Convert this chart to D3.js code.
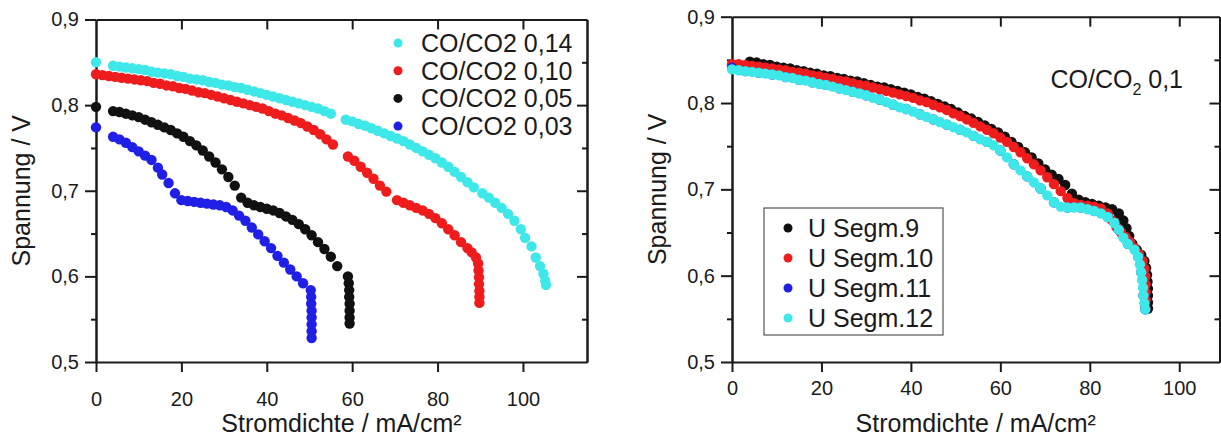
<!DOCTYPE html>
<html>
<head>
<meta charset="utf-8">
<script src="https://cdn.jsdelivr.net/npm/d3@7"></script>
<style>
  body { margin: 0; background: #fff; }
  svg text { font-family: "Liberation Sans", Arial, sans-serif; fill: #1a1a1a; }
</style>
</head>
<body>
<div id="chart"></div>
<script>
// ---- data ----
const xTicks = [0, 20, 40, 60, 80, 100];
const yTicks = [0.5, 0.6, 0.7, 0.8, 0.9];
const yMinor = [0.55, 0.65, 0.75, 0.85];
const yTickLabels = ["0,5", "0,6", "0,7", "0,8", "0,9"];

// left panel: CO/CO2 ratio series  [current density, voltage]
const leftNames = ["CO/CO2 0,14", "CO/CO2 0,10", "CO/CO2 0,05", "CO/CO2 0,03"];
const leftColors = ["#3ee8e8", "#ee1c1c", "#111111", "#1f1fe6"];

const co014 = [[0,0.850],[4,0.846],[5.5,0.845],[7,0.844],[8.5,0.843],[10,0.842],[11.5,0.841],[13,0.839],[14.5,0.838],[16,0.837],[17.5,0.836],[19,0.834],[20.5,0.833],[22,0.831],[23.5,0.830],[25,0.829],[26.5,0.827],[28,0.826],[29.5,0.824],[31,0.823],[32.5,0.821],[34,0.820],[35.5,0.818],[37,0.816],[38.5,0.814],[40,0.812],[41.5,0.810],[43,0.808],[44.5,0.806],[46,0.804],[47.5,0.802],[49,0.800],[50.5,0.798],[52,0.796],[53.5,0.793],[55,0.790],[58.5,0.783],[60,0.781],[61.5,0.778],[63,0.776],[64.5,0.773],[66,0.770],[67.5,0.767],[69,0.764],[70.5,0.761],[72,0.758],[73.5,0.754],[75,0.750],[76.5,0.746],[78,0.742],[79.5,0.738],[81,0.733],[82.5,0.728],[84,0.722],[85.5,0.716],[87,0.710],[88.5,0.704],[90.5,0.697],[92,0.692],[93.5,0.686],[95,0.680],[96.5,0.673],[98,0.665],[99.5,0.655],[100.5,0.645],[102,0.635],[103,0.622],[104,0.612],[104.8,0.603],[105.2,0.595],[105.4,0.590]];
const co010 = [[0,0.836],[1.5,0.835],[3,0.834],[4.5,0.833],[6,0.832],[7.5,0.831],[9,0.830],[10.5,0.829],[12,0.828],[13.5,0.826],[15,0.825],[16.5,0.823],[18,0.822],[19.5,0.820],[21,0.819],[22.5,0.817],[24,0.815],[25.5,0.814],[27,0.812],[28.5,0.810],[30,0.808],[31.5,0.806],[33,0.804],[34.5,0.802],[36,0.800],[37.5,0.798],[39,0.796],[40.5,0.793],[42,0.790],[43.5,0.788],[45,0.785],[46.5,0.782],[48,0.779],[49.5,0.775],[51,0.771],[52.5,0.766],[54,0.760],[55.5,0.754],[59,0.740],[60.5,0.735],[62,0.728],[63.5,0.721],[65,0.714],[66.5,0.706],[68,0.699],[70.5,0.689],[72,0.686],[73.5,0.683],[75,0.680],[76.5,0.677],[78,0.673],[79.5,0.668],[81,0.662],[82.5,0.655],[84,0.648],[85.5,0.640],[87,0.633],[88,0.628],[89,0.622],[89.5,0.615],[89.6,0.607],[89.7,0.599],[89.7,0.591],[89.8,0.583],[89.8,0.576],[89.8,0.569]];
const co005 = [[0,0.798],[4,0.793],[5.5,0.792],[7,0.790],[8.5,0.788],[10,0.786],[11.5,0.783],[13,0.780],[14.5,0.777],[16,0.774],[17.5,0.771],[19,0.767],[20.5,0.763],[22,0.758],[23.5,0.753],[25,0.747],[26.5,0.740],[28,0.733],[29.5,0.725],[31,0.716],[32.5,0.706],[34,0.692],[35.5,0.686],[37,0.683],[38.5,0.681],[40,0.679],[41.5,0.677],[43,0.674],[44.5,0.670],[46,0.666],[47.5,0.661],[49,0.655],[50.5,0.648],[52,0.640],[53.5,0.632],[55,0.623],[56.5,0.612],[59,0.600],[59.2,0.592],[59.3,0.584],[59.3,0.576],[59.4,0.568],[59.4,0.560],[59.4,0.552],[59.4,0.545]];
const co003 = [[0,0.774],[4,0.763],[5.5,0.760],[7,0.756],[8.5,0.751],[10,0.746],[11.5,0.741],[13,0.736],[14.5,0.727],[15.5,0.719],[17,0.709],[18.5,0.697],[20,0.689],[21.5,0.688],[23,0.687],[24.5,0.686],[26,0.685],[27.5,0.684],[29,0.683],[30.5,0.681],[32,0.677],[33.5,0.671],[35,0.665],[36.5,0.657],[38,0.649],[39.5,0.641],[41,0.633],[42.5,0.624],[44,0.616],[45.5,0.608],[47,0.600],[48.5,0.592],[50.3,0.584],[50.4,0.576],[50.4,0.568],[50.5,0.560],[50.5,0.552],[50.5,0.544],[50.5,0.536],[50.5,0.528]];

// right panel: segments at CO/CO2 0,1
const rightNames = ["U Segm.9", "U Segm.10", "U Segm.11", "U Segm.12"];
const rightColors = ["#111111", "#ee1c1c", "#1f1fe6", "#3ee8e8"];

const segm9 = [[4,0.848],[5.5,0.847],[7,0.845],[8.5,0.844],[10,0.842],[11.5,0.841],[13,0.840],[14.5,0.838],[16,0.837],[17.5,0.835],[19,0.834],[20.5,0.832],[22,0.831],[23.5,0.829],[25,0.828],[26.5,0.826],[28,0.825],[29.5,0.823],[31,0.821],[32.5,0.819],[34,0.818],[35.5,0.816],[37,0.814],[38.5,0.812],[40,0.810],[41.5,0.807],[43,0.805],[44.5,0.802],[46,0.799],[47.5,0.796],[49,0.793],[50.5,0.789],[52,0.785],[53.5,0.782],[55,0.778],[56.5,0.774],[58,0.770],[59.5,0.766],[61,0.761],[62.5,0.755],[64,0.749],[65.5,0.743],[67,0.737],[68.5,0.730],[70,0.723],[71.5,0.717],[73,0.712],[74.5,0.705],[76,0.695],[77.5,0.688],[79,0.685],[80.5,0.683],[82,0.681],[83.5,0.679],[85,0.677],[86.5,0.672],[87.5,0.664],[88.2,0.655],[88.8,0.646],[89.5,0.637],[90.5,0.630],[91.5,0.624],[92.2,0.617],[92.6,0.609],[92.8,0.601],[92.9,0.593],[93,0.585],[93,0.577],[93,0.569],[93,0.562]];
const segm10 = [[0,0.845],[1.5,0.845],[3,0.844],[4.5,0.843],[6,0.842],[7.5,0.841],[9,0.840],[10.5,0.839],[12,0.838],[13.5,0.836],[15,0.835],[16.5,0.834],[18,0.832],[19.5,0.831],[21,0.829],[22.5,0.828],[24,0.826],[25.5,0.825],[27,0.823],[28.5,0.821],[30,0.820],[31.5,0.818],[33,0.816],[34.5,0.814],[36,0.812],[37.5,0.810],[39,0.808],[40.5,0.806],[42,0.803],[43.5,0.801],[45,0.798],[46.5,0.795],[48,0.792],[49.5,0.788],[51,0.785],[52.5,0.781],[54,0.777],[55.5,0.773],[57,0.769],[58.5,0.765],[60,0.760],[61.5,0.755],[63,0.749],[64.5,0.743],[66,0.736],[67.5,0.729],[69,0.722],[70.5,0.714],[72,0.706],[73.5,0.698],[75,0.690],[76.5,0.684],[78,0.682],[79.5,0.681],[81,0.680],[82.5,0.678],[84,0.672],[85,0.664],[86,0.656],[87,0.650],[88,0.645],[89,0.639],[90,0.632],[91,0.625],[91.8,0.617],[92.2,0.608],[92.4,0.599],[92.5,0.590],[92.5,0.581],[92.5,0.572],[92.4,0.563]];
const segm11 = [[0,0.841],[3,0.837],[6,0.835],[9,0.833],[12,0.830],[15,0.827],[18,0.824],[21,0.821],[24,0.817],[27,0.813],[30,0.809],[33,0.804],[36,0.798],[39,0.793],[42,0.787],[45,0.781],[48,0.775],[51,0.769],[54,0.762],[57,0.755],[60,0.745],[63,0.729],[66,0.715],[69,0.701],[72,0.685],[75,0.679],[78,0.679],[81,0.675],[84,0.668],[86.5,0.653],[88.5,0.637],[90.8,0.622],[91.5,0.604],[92,0.577],[92.4,0.561]];
const segm12 = [[0,0.839],[1.5,0.838],[3,0.837],[4.5,0.836],[6,0.835],[7.5,0.834],[9,0.833],[10.5,0.832],[12,0.830],[13.5,0.829],[15,0.827],[16.5,0.826],[18,0.824],[19.5,0.822],[21,0.821],[22.5,0.819],[24,0.817],[25.5,0.815],[27,0.813],[28.5,0.811],[30,0.809],[31.5,0.806],[33,0.804],[34.5,0.801],[36,0.798],[37.5,0.795],[39,0.793],[40.5,0.790],[42,0.787],[43.5,0.784],[45,0.781],[46.5,0.778],[48,0.775],[49.5,0.772],[51,0.769],[52.5,0.766],[54,0.762],[55.5,0.758],[57,0.755],[58.5,0.751],[60,0.745],[61.5,0.737],[63,0.729],[64.5,0.722],[66,0.715],[67.5,0.708],[69,0.701],[70.5,0.693],[72,0.685],[73.5,0.680],[75,0.679],[76.5,0.679],[78,0.679],[79.5,0.677],[81,0.675],[82.5,0.672],[84,0.668],[85.5,0.661],[86.5,0.653],[87.5,0.644],[88.5,0.637],[90,0.630],[90.8,0.622],[91.2,0.613],[91.5,0.604],[91.7,0.595],[91.9,0.586],[92,0.577],[92.2,0.568],[92.4,0.561]];

const width = 1221;
const height = 439;
const ink = "#1a1a1a";
const dotR = 5.2;

const svg = d3.select("#chart")
  .append("svg")
    .attr("width", width)
    .attr("height", height);

// draws one framed panel, returns its scales
function panel(box) {
  const x = d3.scaleLinear().domain([0, box.xMax]).range([box.left, box.right]);
  const y = d3.scaleLinear().domain([0.5, 0.9]).range([box.bottom, box.top]);
  const g = svg.append("g");

  // bottom axis, ticks outward
  g.append("g")
    .attr("transform", `translate(0,${box.bottom})`)
    .call(d3.axisBottom(x).tickValues(xTicks).tickSize(10).tickSizeOuter(0).tickPadding(box.xPad).tickFormat(d3.format("d")));
  // top axis, ticks inward, no labels
  g.append("g")
    .attr("transform", `translate(0,${box.top})`)
    .call(d3.axisBottom(x).tickValues(xTicks.slice(1)).tickSize(10).tickSizeOuter(0).tickFormat(""));
  // left axis, major + minor outward
  g.append("g")
    .attr("transform", `translate(${box.left},0)`)
    .call(d3.axisLeft(y).tickValues(yTicks).tickSize(11).tickSizeOuter(0).tickPadding(6)
      .tickFormat((d, i) => yTickLabels[i]));
  g.append("g")
    .attr("transform", `translate(${box.left},0)`)
    .call(d3.axisLeft(y).tickValues(yMinor).tickSize(5).tickSizeOuter(0).tickFormat(""));
  // right side, inward
  g.append("g")
    .attr("transform", `translate(${box.right},0)`)
    .call(d3.axisRight(y).tickValues(yTicks.slice(1, 4)).tickSize(-10).tickSizeOuter(0).tickFormat(""));
  g.append("g")
    .attr("transform", `translate(${box.right},0)`)
    .call(d3.axisRight(y).tickValues(yMinor).tickSize(-5).tickSizeOuter(0).tickFormat(""));

  g.selectAll(".domain").attr("stroke", ink).attr("stroke-width", 2);
  g.selectAll(".tick line").attr("stroke", ink).attr("stroke-width", 2);
  g.selectAll(".tick text").attr("fill", ink).style("font-size", "20px")
    .style("font-family", "'Liberation Sans', Arial, sans-serif");

  // axis titles
  g.append("text")
    .attr("x", (box.left + box.right) / 2)
    .attr("y", 432)
    .attr("text-anchor", "middle")
    .style("font-size", "25px")
    .text("Stromdichte / mA/cm²");
  g.append("text")
    .attr("transform", `translate(${box.yTitleX},${(box.top + box.bottom) / 2}) rotate(-90)`)
    .attr("text-anchor", "middle")
    .attr("dy", "0.35em")
    .style("font-size", "25px")
    .text("Spannung / V");

  return {x, y, g};
}

function dots(p, data, color) {
  p.g.append("g")
    .selectAll("circle")
    .data(data)
    .join("circle")
      .attr("cx", d => p.x(d[0]))
      .attr("cy", d => p.y(d[1]))
      .attr("r", dotR)
      .attr("fill", color);
}

// ---- left panel ----
const left = panel({left: 96, right: 587, top: 19.5, bottom: 362, xMax: 115, xPad: 20, yTitleX: 21});
const leftSeries = [co014, co010, co005, co003];
// draw the lowest curve first
[3, 2, 1, 0].forEach(i => dots(left, leftSeries[i], leftColors[i]));

const legL = left.g.append("g");
leftNames.forEach((name, i) => {
  const cy = 43 + i * 27.7;
  legL.append("circle").attr("cx", 398).attr("cy", cy).attr("r", 4.5).attr("fill", leftColors[i]);
  legL.append("text").attr("x", 421).attr("y", cy).attr("dy", "0.36em")
    .style("font-size", "25px").text(name);
});

// ---- right panel ----
const right = panel({left: 732, right: 1219.5, top: 16.7, bottom: 362, xMax: 109, xPad: 9, yTitleX: 657});
const rightSeries = [segm9, segm10, segm11, segm12];
rightSeries.forEach((s, i) => dots(right, s, rightColors[i]));

const legR = right.g.append("g");
legR.append("rect")
  .attr("x", 764).attr("y", 208).attr("width", 179).attr("height", 127)
  .attr("fill", "#fff").attr("stroke", "#555").attr("stroke-width", 1.2);
rightNames.forEach((name, i) => {
  const cy = 228 + i * 30;
  legR.append("circle").attr("cx", 788).attr("cy", cy).attr("r", 4.5).attr("fill", rightColors[i]);
  legR.append("text").attr("x", 808).attr("y", cy).attr("dy", "0.36em")
    .style("font-size", "25px").text(name);
});

const note = right.g.append("text")
  .attr("x", 1183).attr("y", 88)
  .attr("text-anchor", "end")
  .style("font-size", "25px");
note.append("tspan").text("CO/CO");
note.append("tspan").attr("dy", 7).style("font-size", "16px").text("2");
note.append("tspan").attr("dy", -7).text(" 0,1");
</script>
</body>
</html>
